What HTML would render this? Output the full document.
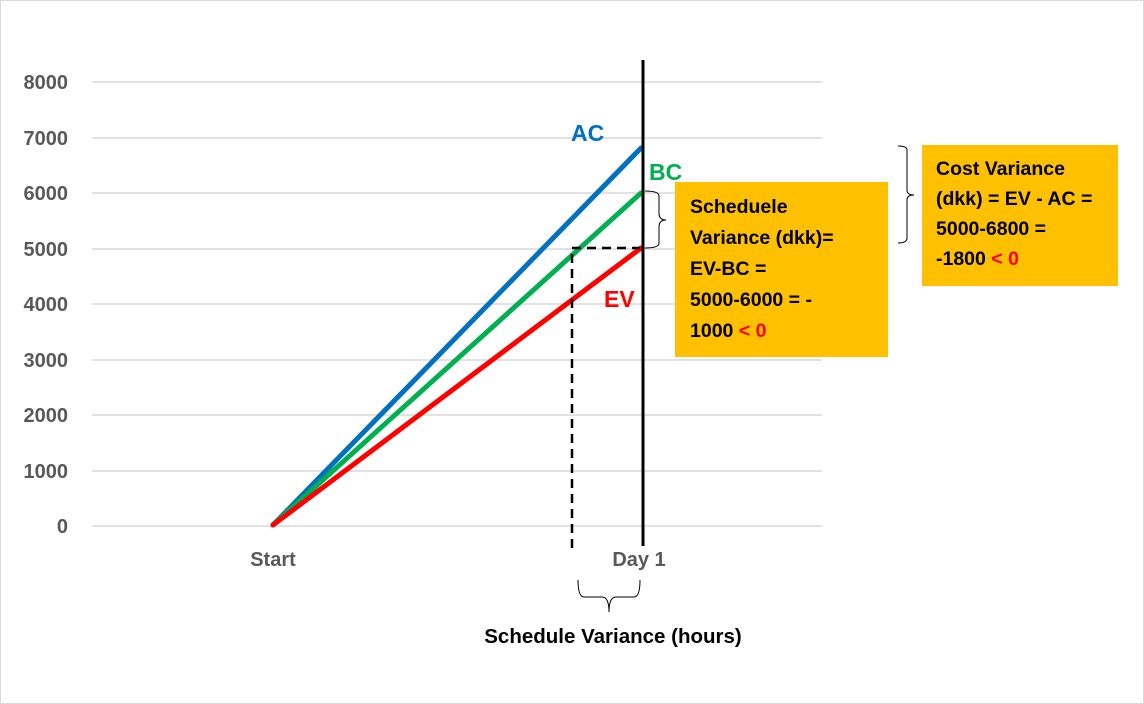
<!DOCTYPE html>
<html><head><meta charset="utf-8"><style>
html,body{margin:0;padding:0;background:#fff}
svg{display:block}
text{font-family:"Liberation Sans",sans-serif;font-weight:bold}
</style></head><body>
<svg width="1144" height="704" viewBox="0 0 1144 704">
<rect x="0.5" y="0.5" width="1143" height="703" fill="#fff" stroke="#d9d9d9"/>
<g stroke="#d9d9d9" stroke-width="1.5">
<line x1="92" y1="82" x2="822" y2="82"/>
<line x1="92" y1="138" x2="822" y2="138"/>
<line x1="92" y1="193" x2="822" y2="193"/>
<line x1="92" y1="249" x2="822" y2="249"/>
<line x1="92" y1="304" x2="822" y2="304"/>
<line x1="92" y1="360" x2="822" y2="360"/>
<line x1="92" y1="415" x2="822" y2="415"/>
<line x1="92" y1="471" x2="822" y2="471"/>
<line x1="92" y1="526" x2="822" y2="526"/>
</g>
<g fill="#595959" font-size="20" text-anchor="end">
<text x="68" y="89">8000</text><text x="68" y="145">7000</text><text x="68" y="200">6000</text>
<text x="68" y="256">5000</text><text x="68" y="311">4000</text><text x="68" y="367">3000</text>
<text x="68" y="422">2000</text><text x="68" y="478">1000</text><text x="68" y="533">0</text>
</g>
<g fill="#595959" font-size="20" text-anchor="middle">
<text x="273" y="566">Start</text><text x="639" y="566">Day 1</text>
</g>
<g stroke-width="5" stroke-linecap="round">
<line x1="273" y1="525" x2="641" y2="148" stroke="#0070c0"/>
<line x1="273" y1="525" x2="641" y2="193" stroke="#00b050"/>
<line x1="273" y1="525" x2="641" y2="248" stroke="#ff0000"/>
</g>
<line x1="643" y1="60" x2="643" y2="546" stroke="#000" stroke-width="3"/>
<path d="M572 548 V248 H640" fill="none" stroke="#000" stroke-width="2.5" stroke-dasharray="9,6"/>
<text x="571" y="141" font-size="23" fill="#0070c0">AC</text>
<text x="649" y="180" font-size="23" fill="#00b050">BC</text>
<text x="604" y="307" font-size="23" fill="#ff0000">EV</text>
<g fill="none" stroke="#000" stroke-width="1">
<path d="M645 191 Q659 191 659 196 V213 Q659 220 666 220 Q659 220 659 227 V243 Q659 248 645 248"/>
<path d="M898 146 Q907 146 907 150 V190 Q907 195 914 195 Q907 195 907 200 V238 Q907 243 898 243"/>
<path d="M578 580 Q578 597 584 597 H602 Q609 597 609 612 Q609 597 616 597 H634 Q640 597 640 580"/>
</g>
<rect x="675" y="182" width="213" height="175" fill="#ffc000"/>
<g font-size="19.5" fill="#000">
<text x="690" y="213">Scheduele</text>
<text x="690" y="244">Variance (dkk)=</text>
<text x="690" y="275">EV-BC =</text>
<text x="690" y="306">5000-6000 = -</text>
<text x="690" y="337">1000 <tspan fill="#ff0000">&lt; 0</tspan></text>
</g>
<rect x="922" y="145" width="196" height="141" fill="#ffc000"/>
<g font-size="19.5" fill="#000">
<text x="936" y="175">Cost Variance</text>
<text x="936" y="205">(dkk) = EV - AC =</text>
<text x="936" y="235">5000-6800 =</text>
<text x="936" y="265">-1800 <tspan fill="#ff0000">&lt; 0</tspan></text>
</g>
<text x="613" y="643" font-size="20.5" text-anchor="middle" fill="#000">Schedule Variance (hours)</text>
</svg>
</body></html>
